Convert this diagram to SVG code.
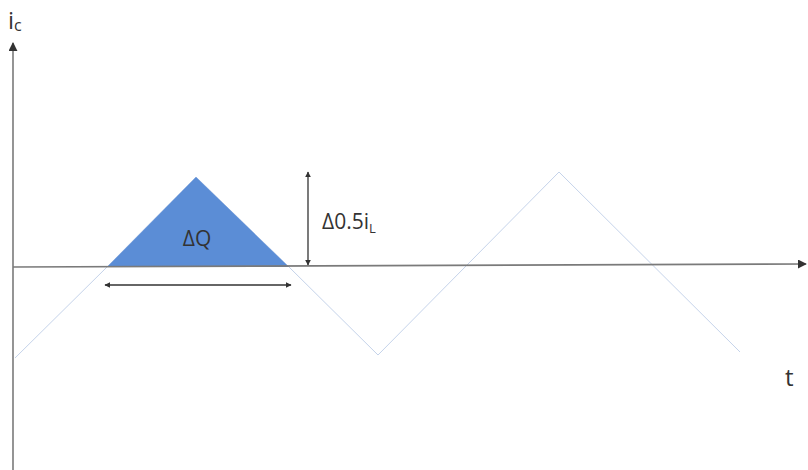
<svg xmlns="http://www.w3.org/2000/svg" width="808" height="470" viewBox="0 0 808 470">
<style>
.axis{stroke:#7a7a7a;stroke-width:1.6;fill:none}
.dim{stroke:#333;stroke-width:1.3;fill:none}
.wave{stroke:#c5d3ea;stroke-width:1;fill:none}
.lbl{font-family:"Open Sans","Liberation Sans",sans-serif;fill:#333}
</style>
<defs>
<marker id="ah" viewBox="0 0 10 10" refX="9" refY="5" markerWidth="6" markerHeight="6" orient="auto-start-reverse" markerUnits="userSpaceOnUse">
<path d="M0,0 L10,5 L0,10 z" fill="#333"/>
</marker>
<marker id="axh" viewBox="0 0 10 10" refX="9" refY="5" markerWidth="9" markerHeight="9" orient="auto" markerUnits="userSpaceOnUse">
<path d="M0,0 L10,5 L0,10 z" fill="#333"/>
</marker>
</defs>
<rect width="808" height="470" fill="#fff"/>
<g id="wave">
<polyline class="wave" points="15,358 107,267 196,177 289,267 378,355 559,172 740,352"/>
</g>
<g id="area">
<polygon points="107,267 196,177 289,267" fill="#5b8dd6"/>
<text class="lbl" x="197" y="246" font-size="21" text-anchor="middle">ΔQ</text>
</g>
<g id="connectors">
<line class="axis" x1="13" y1="470" x2="13" y2="43" marker-end="url(#axh)"/>
<line class="axis" x1="13" y1="267" x2="806" y2="264" marker-end="url(#axh)"/>
<line class="dim" x1="105" y1="285" x2="291" y2="285" marker-start="url(#ah)" marker-end="url(#ah)"/>
<line class="dim" x1="308" y1="172" x2="308" y2="265" marker-start="url(#ah)" marker-end="url(#ah)"/>
</g>
<g id="labels">
<text class="lbl" x="8" y="29" font-size="24">i<tspan font-size="16" dy="2">c</tspan></text>
<text class="lbl" x="322" y="229" font-size="21">Δ0.5i<tspan font-size="13" dy="4">L</tspan></text>
<text class="lbl" x="785" y="386" font-size="24">t</text>
</g>
</svg>
